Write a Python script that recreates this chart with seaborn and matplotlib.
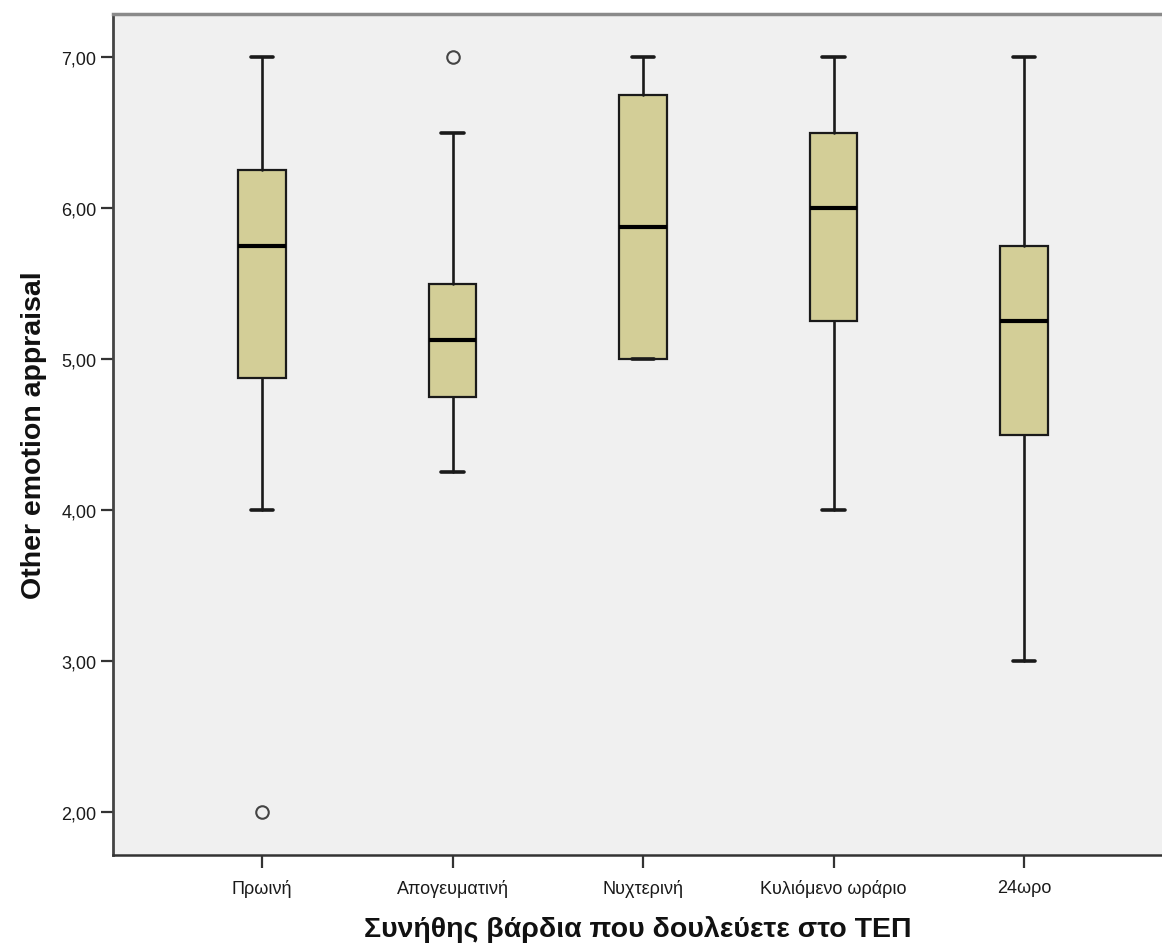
import matplotlib
matplotlib.use("Agg")
import matplotlib.pyplot as plt
import seaborn as sns

# Five-number summaries per shift type
shifts = ["Πρωινή", "Απογευματινή", "Νυχτερινή", "Κυλιόμενο ωράριο", "24ωρο"]
whisker_low = [4.00, 4.25, 5.00, 4.00, 3.00]
q1 = [4.875, 4.75, 5.00, 5.25, 4.50]
median = [5.75, 5.125, 5.875, 6.00, 5.25]
q3 = [6.25, 5.50, 6.75, 6.50, 5.75]
whisker_high = [7.00, 6.50, 7.00, 7.00, 7.00]
outliers = [[2.00], [7.00], [], [], []]

y_ticks = [2, 3, 4, 5, 6, 7]

sns.set_theme(style="ticks")
plt.rcParams["font.family"] = ["Liberation Sans", "DejaVu Sans"]

fig = plt.figure(figsize=(11.62, 9.45), dpi=100)
W, H = 1162, 945
ax = fig.add_axes([113 / W, (H - 856) / H, (1162 - 113) / W, (856 - 15) / H])
ax.set_facecolor("#f0f0f0")

stats = []
for i, name in enumerate(shifts):
    stats.append(dict(label=name, whislo=whisker_low[i], q1=q1[i], med=median[i],
                      q3=q3[i], whishi=whisker_high[i], fliers=outliers[i]))

ax.bxp(stats, positions=range(len(shifts)), widths=0.25, capwidths=0.12,
       patch_artist=True, showfliers=True,
       boxprops=dict(facecolor="#d3ce97", edgecolor="#1a1a1a", linewidth=1.6),
       medianprops=dict(color="black", linewidth=3),
       whiskerprops=dict(color="#1a1a1a", linewidth=1.9),
       capprops=dict(color="#1a1a1a", linewidth=2.6),
       flierprops=dict(marker="o", markersize=9, markerfacecolor="none",
                       markeredgecolor="#444444", markeredgewidth=1.5))

ax.set_xlim(-0.782, 4.724)
ax.set_ylim(1.715, 7.285)
ax.set_yticks(y_ticks)
ax.set_yticklabels([f"{v:.2f}".replace(".", ",") for v in y_ticks], fontsize=13, color="#1a1a1a")
ax.set_xticks(range(len(shifts)))
ax.set_xticklabels(shifts, fontsize=13, color="#1a1a1a")
ax.tick_params(axis="both", direction="out", length=9, width=1.6, color="#333333", pad=3)
ax.tick_params(axis="x", pad=8)

ax.set_ylabel("Other emotion appraisal", fontsize=20.5, fontweight="bold", labelpad=10, color="#111111")
ax.set_xlabel("Συνήθης βάρδια που δουλεύετε στο ΤΕΠ", fontsize=20.5, fontweight="bold",
              labelpad=13, color="#111111")

ax.spines["left"].set_color("#444444")
ax.spines["left"].set_linewidth(2)
ax.spines["bottom"].set_color("#333333")
ax.spines["bottom"].set_linewidth(1.8)
ax.spines["top"].set_color("#8a8a8a")
ax.spines["top"].set_linewidth(2.5)
ax.spines["right"].set_visible(False)

fig.savefig("out.png", dpi=100, facecolor="white")
